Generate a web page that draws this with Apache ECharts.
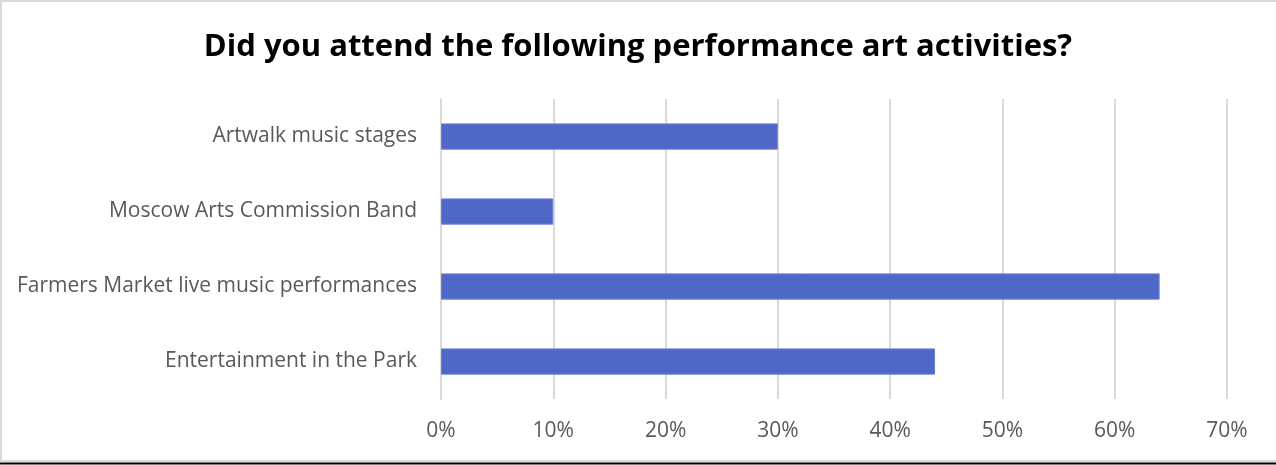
<!DOCTYPE html>
<html lang="en">
<head>
    <meta charset="UTF-8">
    <title>Performance art activities</title>
    <script src="https://cdn.jsdelivr.net/npm/echarts@6/dist/echarts.min.js"></script>
    <style>
        html, body { margin: 0; padding: 0; background: #fff; }
        #chart { width: 1276px; height: 465px; }
    </style>
</head>
<body>
<div id="chart"></div>
<script type="text/javascript">
    // data (bottom-to-top order for the y axis)
    var categories = ['Entertainment in the Park', 'Farmers Market live music performances', 'Moscow Arts Commission Band', 'Artwalk music stages'];
    var percentAttended = [44, 64, 10, 30];
    var xTicks = [0, 10, 20, 30, 40, 50, 60, 70];

    var myChart = echarts.init(document.getElementById('chart'));
    var option = {
        animation: false,
        title: {
            text: 'Did you attend the following performance art activities?',
            left: 'center',
            top: 27,
            textStyle: {
                fontFamily: 'Open Sans',
                fontWeight: 'bold',
                fontSize: 31,
                color: '#000'
            }
        },
        grid: {left: 441, right: 49, top: 99, bottom: 66, containLabel: false},
        xAxis: {
            type: 'value',
            min: xTicks[0],
            max: xTicks[xTicks.length - 1],
            interval: 10,
            axisLine: {show: false},
            axisTick: {show: false},
            splitLine: {lineStyle: {color: '#d9d9d9', width: 2}},
            axisLabel: {
                formatter: '{value}%',
                margin: 22,
                fontFamily: 'Open Sans',
                fontSize: 21,
                color: '#595959'
            }
        },
        yAxis: {
            type: 'category',
            data: categories,
            axisLine: {show: true, lineStyle: {color: '#d9d9d9', width: 2}},
            axisTick: {show: false},
            axisLabel: {
                margin: 24,
                fontFamily: 'Open Sans',
                fontSize: 21,
                color: '#595959'
            }
        },
        series: [{
            type: 'bar',
            data: percentAttended,
            barWidth: '35%',
            itemStyle: {color: '#4f68c7', borderColor: '#6a80d6', borderWidth: 1}
        }],
        graphic: [
            {type: 'line', shape: {x1: 0, y1: 1, x2: 1276, y2: 1}, style: {stroke: '#d9d9d9', lineWidth: 2}},
            {type: 'line', shape: {x1: 1, y1: 0, x2: 1, y2: 462}, style: {stroke: '#d9d9d9', lineWidth: 2}},
            {type: 'line', shape: {x1: 0, y1: 461, x2: 1276, y2: 461}, style: {stroke: '#d9d9d9', lineWidth: 2}},
            {type: 'line', shape: {x1: 0, y1: 463.5, x2: 1276, y2: 463.5}, style: {stroke: '#000', lineWidth: 2}}
        ]
    };
    myChart.setOption(option);
</script>
</body>
</html>
